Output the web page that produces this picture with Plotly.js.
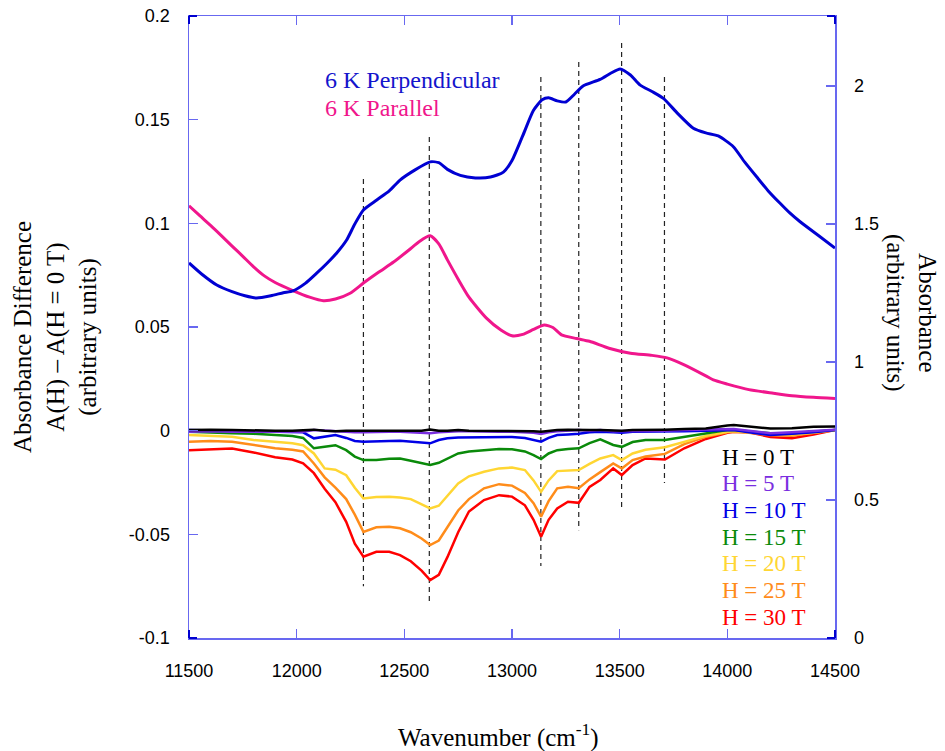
<!DOCTYPE html>
<html>
<head>
<meta charset="utf-8">
<script src="https://cdn.plot.ly/plotly-3.0.1.min.js"></script>
<style>html,body{margin:0;padding:0;background:#fff;}#chart{width:945px;height:751px;}</style>
</head>
<body>
<div id="chart"></div>
<script>
// ---- Absorbance spectra (right axis) ----
const perpX = [11500,11560,11629,11700,11760,11814,11880,11938,11983,12040,12093,12140,12186,12232,12270,12310,12372,12430,12480,12550,12620,12660,12700,12760,12830,12900,12960,13000,13050,13100,13140,13170,13210,13250,13290,13330,13409,13460,13502,13550,13594,13650,13703,13770,13842,13900,13958,14028,14080,14136,14190,14245,14290,14338,14420,14500];
const perpY = [1.359,1.318,1.279,1.255,1.240,1.232,1.240,1.251,1.258,1.285,1.322,1.357,1.395,1.442,1.500,1.551,1.587,1.620,1.659,1.696,1.725,1.722,1.698,1.676,1.667,1.670,1.688,1.730,1.820,1.912,1.950,1.957,1.946,1.942,1.970,2.000,2.024,2.047,2.062,2.040,2.004,1.980,1.955,1.900,1.847,1.830,1.819,1.780,1.725,1.671,1.620,1.575,1.540,1.508,1.460,1.413];

const parX = [11500,11550,11600,11650,11700,11750,11800,11850,11900,11985,12060,12124,12180,12248,12310,12380,12450,12520,12570,12620,12660,12700,12750,12800,12880,12950,13000,13050,13100,13150,13190,13230,13300,13360,13450,13550,13650,13720,13800,13900,13935,14000,14100,14214,14300,14400,14500];
const parY = [1.566,1.530,1.495,1.458,1.420,1.383,1.345,1.312,1.288,1.258,1.235,1.222,1.228,1.249,1.286,1.325,1.362,1.405,1.437,1.457,1.428,1.370,1.300,1.235,1.160,1.115,1.095,1.100,1.118,1.134,1.125,1.098,1.085,1.075,1.050,1.032,1.024,1.015,0.990,0.950,0.935,0.920,0.900,0.887,0.878,0.872,0.868];

// ---- Absorbance differences (left axis) ----
const diffX = [11500,11600,11700,11800,11900,11980,12030,12080,12130,12180,12230,12270,12310,12370,12430,12480,12530,12580,12620,12660,12700,12750,12800,12870,12940,13000,13060,13100,13135,13170,13210,13260,13310,13360,13410,13470,13510,13560,13620,13710,13800,13900,14000,14030,14100,14200,14300,14400,14500];
const h30 = [-0.0094,-0.0090,-0.0086,-0.0105,-0.0128,-0.0139,-0.0158,-0.0205,-0.0280,-0.0345,-0.0440,-0.0545,-0.0608,-0.0584,-0.0584,-0.0600,-0.0630,-0.0675,-0.0721,-0.0695,-0.0610,-0.0490,-0.0390,-0.0335,-0.0311,-0.0318,-0.0360,-0.0430,-0.0512,-0.0430,-0.0375,-0.0343,-0.0348,-0.0271,-0.0238,-0.0182,-0.0214,-0.0166,-0.0134,-0.0139,-0.0085,-0.0040,-0.0010,-0.0005,-0.0008,-0.0030,-0.0036,-0.0018,0.0003];
const h25 = [-0.0053,-0.0050,-0.0053,-0.0070,-0.0085,-0.0092,-0.0100,-0.0158,-0.0225,-0.0275,-0.0330,-0.0405,-0.0488,-0.0466,-0.0464,-0.0471,-0.0490,-0.0520,-0.0552,-0.0530,-0.0465,-0.0385,-0.0330,-0.0278,-0.0258,-0.0265,-0.0300,-0.0350,-0.0415,-0.0340,-0.0278,-0.0271,-0.0278,-0.0235,-0.0200,-0.0158,-0.0182,-0.0142,-0.0125,-0.0112,-0.0065,-0.0030,-0.0008,-0.0005,-0.0010,-0.0022,-0.0025,-0.0012,0.0003];
const h20 = [-0.0021,-0.0025,-0.0029,-0.0045,-0.0055,-0.0061,-0.0070,-0.0110,-0.0182,-0.0188,-0.0215,-0.0275,-0.0327,-0.0320,-0.0319,-0.0322,-0.0330,-0.0355,-0.0375,-0.0362,-0.0315,-0.0255,-0.0220,-0.0198,-0.0182,-0.0178,-0.0190,-0.0240,-0.0295,-0.0240,-0.0195,-0.0192,-0.0190,-0.0160,-0.0134,-0.0118,-0.0142,-0.0110,-0.0092,-0.0080,-0.0055,-0.0025,-0.0005,-0.0002,-0.0008,-0.0015,-0.0018,-0.0010,0.0003];
const h15 = [-0.0005,-0.0010,-0.0013,-0.0015,-0.0020,-0.0026,-0.0035,-0.0085,-0.0078,-0.0070,-0.0094,-0.0125,-0.0142,-0.0142,-0.0136,-0.0134,-0.0145,-0.0155,-0.0166,-0.0155,-0.0135,-0.0110,-0.0100,-0.0095,-0.0088,-0.0090,-0.0100,-0.0118,-0.0137,-0.0110,-0.0094,-0.0088,-0.0085,-0.0060,-0.0042,-0.0069,-0.0078,-0.0055,-0.0045,-0.0045,-0.0030,-0.0010,0.0003,0.0003,-0.0005,-0.0013,-0.0012,-0.0005,0.0003];
const h10 = [0.0003,0.0000,-0.0003,-0.0003,-0.0005,-0.0005,-0.0008,-0.0037,-0.0030,-0.0021,-0.0035,-0.0050,-0.0053,-0.0050,-0.0050,-0.0049,-0.0052,-0.0058,-0.0061,-0.0045,-0.0037,-0.0033,-0.0032,-0.0032,-0.0030,-0.0030,-0.0035,-0.0045,-0.0053,-0.0035,-0.0021,-0.0018,-0.0015,-0.0008,-0.0005,-0.0008,-0.0010,-0.0005,-0.0005,-0.0005,-0.0003,0.0000,0.0003,0.0003,-0.0008,-0.0021,-0.0015,-0.0008,0.0003];
const h5 = [-0.0005,-0.0003,-0.0005,-0.0005,-0.0008,-0.0008,-0.0005,0.0003,0.0000,-0.0005,-0.0008,-0.0008,-0.0008,-0.0005,-0.0005,-0.0005,-0.0008,-0.0010,-0.0013,-0.0008,-0.0005,-0.0003,-0.0003,-0.0005,-0.0005,-0.0005,-0.0008,-0.0010,-0.0016,-0.0008,-0.0003,0.0000,0.0003,0.0000,0.0003,-0.0003,-0.0003,0.0000,0.0000,0.0000,0.0003,0.0005,0.0008,0.0008,0.0000,-0.0013,-0.0008,-0.0003,0.0005];
const h0 = [0.0003,0.0005,0.0003,0.0000,0.0000,0.0000,0.0003,0.0005,0.0000,-0.0003,0.0000,0.0000,0.0003,0.0000,0.0000,0.0000,0.0003,0.0000,0.0005,0.0000,0.0000,0.0003,0.0000,0.0000,-0.0003,0.0000,-0.0003,-0.0003,-0.0005,0.0000,0.0003,0.0005,0.0003,0.0003,0.0003,0.0000,0.0000,0.0003,0.0003,0.0005,0.0008,0.0010,0.0025,0.0027,0.0020,0.0010,0.0012,0.0019,0.0020];

const fieldLabels = ['H = 0 T','H = 5 T','H = 10 T','H = 15 T','H = 20 T','H = 25 T','H = 30 T'];
const fieldColors = ['#000000','#7a2ee0','#0000e6','#0a8a0a','#ffd633','#ff8c1a','#ff0000'];
const fieldSeries = [h0,h5,h10,h15,h20,h25,h30];

// ---- dashed marker lines (wavenumber, top, bottom in left-axis units) ----
const dashX = [12310,12616,13134,13310,13509,13708];
const dashTop = [0.1214,0.1416,0.1706,0.1778,0.1870,0.1706];
const dashBottom = [-0.0750,-0.0837,-0.0653,-0.0480,-0.0378,-0.0253];

const xTicks = [11500,12000,12500,13000,13500,14000,14500];
const yLeftTicks = [-0.1,-0.05,0,0.05,0.1,0.15,0.2];
const yLeftText = ['-0.1','-0.05','0','0.05','0.1','0.15','0.2'];
const yRightTicks = [0,0.5,1,1.5,2];
const yRightText = ['0','0.5','1','1.5','2'];

const axisColor = '#6868f0';
const cornerColor = '#0000d0';
const serif = 'Liberation Serif, Times New Roman, serif';
const sans = 'Liberation Sans, Arial, sans-serif';

const traces = [];
// dashed lines
const dx = [], dy = [];
dashX.forEach((x,i)=>{ dx.push(x,x,null); dy.push(dashTop[i],dashBottom[i],null); });
traces.push({x:dx,y:dy,mode:'lines',line:{color:'#222',width:1.2,dash:'5px,4px'},hoverinfo:'skip',name:'markers'});

// difference curves (draw 30 T first so that low fields sit on top)
for (let i = fieldSeries.length-1; i >= 0; i--) {
  traces.push({x:diffX,y:fieldSeries[i],mode:'lines',name:fieldLabels[i],
    line:{color:fieldColors[i],width:2.5},yaxis:'y'});
}
traces.push({x:parX,y:parY,mode:'lines',name:'6 K Parallel',line:{color:'#f0168c',width:3,shape:'spline',smoothing:0.6},yaxis:'y2'});
traces.push({x:perpX,y:perpY,mode:'lines',name:'6 K Perpendicular',line:{color:'#0000d2',width:3,shape:'spline',smoothing:0.6},yaxis:'y2'});

const annotations = [];
fieldLabels.forEach((t,i)=>{
  annotations.push({x:13966,y:-0.0127-i*0.01288,xref:'x',yref:'y',text:t,showarrow:false,
    xanchor:'left',yanchor:'middle',font:{family:serif,size:23,color:fieldColors[i]}});
});
annotations.push({x:12122,y:0.1691,xref:'x',yref:'y',text:'6 K Perpendicular',showarrow:false,xanchor:'left',yanchor:'middle',font:{family:serif,size:24,color:'#1414cc'}});
annotations.push({x:12122,y:0.1556,xref:'x',yref:'y',text:'6 K Parallel',showarrow:false,xanchor:'left',yanchor:'middle',font:{family:serif,size:24,color:'#f0168c'}});
annotations.push({x:(55-189)/646,y:(638-337)/622,xref:'paper',yref:'paper',textangle:-90,showarrow:false,
  text:'Absorbance Difference<br>A(H) – A(H = 0 T)<br>(arbitrary units)',xanchor:'center',yanchor:'middle',
  font:{family:serif,size:25,color:'#000'}});
annotations.push({x:(911-189)/646,y:(638-313)/622,xref:'paper',yref:'paper',textangle:90,showarrow:false,
  text:'Absorbance<br>(arbitrary units)',xanchor:'center',yanchor:'middle',
  font:{family:serif,size:25,color:'#000'}});
annotations.push({x:(498-189)/646,y:(638-735)/622,xref:'paper',yref:'paper',showarrow:false,
  text:'Wavenumber (cm<sup>-1</sup>)',xanchor:'center',yanchor:'middle',
  font:{family:serif,size:25,color:'#000'}});

// darker corner accents of the frame
const cw = 8/646, ch = 8/622;
const corners = [[0,0,1,1],[1,0,-1,1],[0,1,1,-1],[1,1,-1,-1]];
const shapes = [];
corners.forEach(c=>{
  shapes.push({type:'line',xref:'paper',yref:'paper',x0:c[0],y0:c[1],x1:c[0]+c[2]*cw,y1:c[1],line:{color:cornerColor,width:2}});
  shapes.push({type:'line',xref:'paper',yref:'paper',x0:c[0],y0:c[1],x1:c[0],y1:c[1]+c[3]*ch,line:{color:cornerColor,width:2}});
});

const commonAxis = {showline:true,linecolor:axisColor,linewidth:1.5,ticks:'inside',ticklen:9,tickwidth:1.2,
  tickcolor:axisColor,showgrid:false,zeroline:false,tickfont:{family:sans,size:18,color:'#000'},ticklabelstandoff:14};

const layout = {
  width:945,height:751,
  margin:{l:189,r:110,t:16,b:113,pad:0},
  paper_bgcolor:'#fff',plot_bgcolor:'#fff',
  showlegend:false,
  xaxis:Object.assign({},commonAxis,{range:[11500,14500],tickmode:'array',tickvals:xTicks,ticktext:xTicks.map(String),mirror:'ticks',ticklabelstandoff:16}),
  yaxis:Object.assign({},commonAxis,{range:[-0.1,0.2],tickmode:'array',tickvals:yLeftTicks,ticktext:yLeftText}),
  yaxis2:Object.assign({},commonAxis,{range:[0,2.2536],tickmode:'array',tickvals:yRightTicks,ticktext:yRightText,overlaying:'y',side:'right'}),
  annotations:annotations,
  shapes:shapes
};

Plotly.newPlot('chart',traces,layout,{staticPlot:true,displayModeBar:false});
</script>
</body>
</html>
